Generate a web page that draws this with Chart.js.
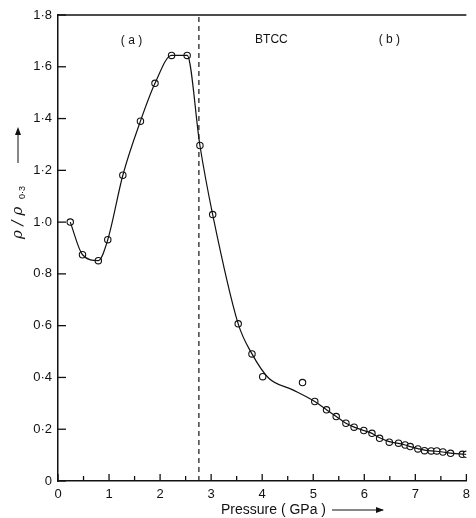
<!DOCTYPE html>
<html>
<head>
<script src="https://cdn.jsdelivr.net/npm/chart.js"></script>
<style>
body{margin:0;background:white}
</style>
</head>
<body>
<canvas id="chart" width="476" height="518"></canvas>
<script>
// measured points (pressure in GPa, resistivity ratio)
const pressure = [0.24,0.48,0.79,0.975,1.27,1.615,1.90,2.225,2.53,2.78,3.03,3.53,3.80,4.01,4.79,
  5.03,5.26,5.45,5.64,5.80,5.99,6.15,6.30,6.49,6.67,6.80,6.90,7.05,7.18,7.31,7.42,7.54,7.69,7.92,8.0];
const ratio = [1.0,0.874,0.851,0.932,1.181,1.390,1.536,1.644,1.644,1.296,1.029,0.607,0.491,0.403,0.380,
  0.307,0.275,0.249,0.223,0.208,0.195,0.184,0.165,0.150,0.146,0.139,0.133,0.124,0.117,0.116,0.116,0.112,0.107,0.103,0.103];

// smooth curve drawn through the data
const curveP = [0.24,0.48,0.79,0.975,1.27,1.615,1.90,2.225,2.53,2.78,3.03,3.53,3.80,4.13,4.6,
  5.03,5.26,5.45,5.64,5.80,5.99,6.15,6.30,6.49,6.67,6.80,6.90,7.05,7.18,7.31,7.42,7.54,7.69,7.92,8.0];
const curveV = [1.0,0.874,0.851,0.932,1.181,1.390,1.536,1.644,1.644,1.296,1.029,0.607,0.491,0.397,0.352,
  0.307,0.275,0.249,0.223,0.208,0.195,0.184,0.167,0.152,0.145,0.139,0.133,0.125,0.119,0.116,0.115,0.112,0.108,0.104,0.103];

const transitionP = 2.76;
const xTicks = [0,1,2,3,4,5,6,7,8];
const yTicks = [0,0.2,0.4,0.6,0.8,1.0,1.2,1.4,1.6,1.8];
const notes = [{t:'( a )',x:1.44,y:1.70},{t:'BTCC',x:4.18,y:1.705},{t:'( b )',x:6.49,y:1.705}];

const FONT = 'Liberation Sans';

const extras = {
  id:'extras',
  afterDraw(chart){
    const c = chart.ctx, xs = chart.scales.x, ys = chart.scales.y, a = chart.chartArea;
    c.save();
    c.strokeStyle = '#111'; c.lineWidth = 1.3;
    // top border
    c.beginPath(); c.moveTo(a.left, a.top); c.lineTo(a.right, a.top); c.stroke();
    // inward ticks on x (major + half steps)
    for(let v=0; v<=8; v+=0.5){
      const px = xs.getPixelForValue(v);
      const len = Number.isInteger(v) ? 7 : 5;
      c.beginPath(); c.moveTo(px, a.bottom); c.lineTo(px, a.bottom-len); c.stroke();
    }
    yTicks.forEach(v=>{
      const py = ys.getPixelForValue(v);
      c.beginPath(); c.moveTo(a.left, py); c.lineTo(a.left+8, py); c.stroke();
    });
    // annotations
    c.fillStyle = '#111';
    c.font = '12px "' + FONT + '"';
    c.textAlign = 'center'; c.textBaseline = 'middle';
    notes.forEach(n=>c.fillText(n.t, xs.getPixelForValue(n.x), ys.getPixelForValue(n.y)));
    // x title with arrow
    c.font = '14px "' + FONT + '"';
    c.textAlign = 'left';
    c.fillText('Pressure ( GPa )', 221, 510);
    c.lineWidth = 1;
    c.beginPath(); c.moveTo(332, 510); c.lineTo(383, 510); c.stroke();
    c.beginPath(); c.moveTo(384, 510); c.lineTo(376, 507); c.lineTo(376, 513); c.closePath(); c.fill();
    // y title rotated
    c.translate(18, 213);
    c.rotate(-Math.PI/2);
    c.font = 'italic 15px "DejaVu Serif"';
    c.textAlign = 'left';
    c.fillText('\u03C1 / \u03C1', -26, 0);
    c.font = '9px "' + FONT + '"';
    c.fillText('0\u00B73', 14, 5);
    // arrow up
    c.beginPath(); c.moveTo(50, 0); c.lineTo(84, 0); c.stroke();
    c.beginPath(); c.moveTo(86, 0); c.lineTo(78, -3); c.lineTo(78, 3); c.closePath(); c.fill();
    c.restore();
  }
};

new Chart(document.getElementById('chart'), {
  type:'scatter',
  data:{datasets:[
    {data:curveP.map((x,i)=>({x, y:curveV[i]})), showLine:true, pointRadius:0,
     borderColor:'#111', borderWidth:1.2, cubicInterpolationMode:'monotone'},
    {data:pressure.map((x,i)=>({x, y:ratio[i]})), pointRadius:3.2, pointBackgroundColor:'white',
     pointBorderColor:'#111', pointBorderWidth:1.1, showLine:false},
    {data:[{x:transitionP,y:0},{x:transitionP,y:1.8}], showLine:true, pointRadius:0,
     borderColor:'#111', borderWidth:1.2, borderDash:[5,4]}
  ]},
  options:{
    responsive:false, animation:false,
    layout:{padding:{top:15, right:2, left:0, bottom:0}},
    plugins:{legend:{display:false}, tooltip:{enabled:false}},
    scales:{
      x:{type:'linear', min:0, max:8,
        afterBuildTicks:s=>{s.ticks = xTicks.map(v=>({value:v}));},
        afterFit:s=>{s.height = 37;},
        grid:{display:false, drawTicks:false},
        border:{color:'#111', width:1.5},
        ticks:{color:'#111', padding:6, font:{family:FONT, size:13}, callback:v=>String(v)}},
      y:{type:'linear', min:0, max:1.8,
        afterBuildTicks:s=>{s.ticks = yTicks.map(v=>({value:v}));},
        afterFit:s=>{s.width = 58;},
        grid:{display:false, drawTicks:false},
        border:{color:'#111', width:1.5},
        ticks:{color:'#111', padding:6, font:{family:FONT, size:13},
          callback:v=> v===0 ? '0' : v.toFixed(1).replace('.', '\u00B7')}}
    }
  },
  plugins:[extras]
});
</script>
</body>
</html>
